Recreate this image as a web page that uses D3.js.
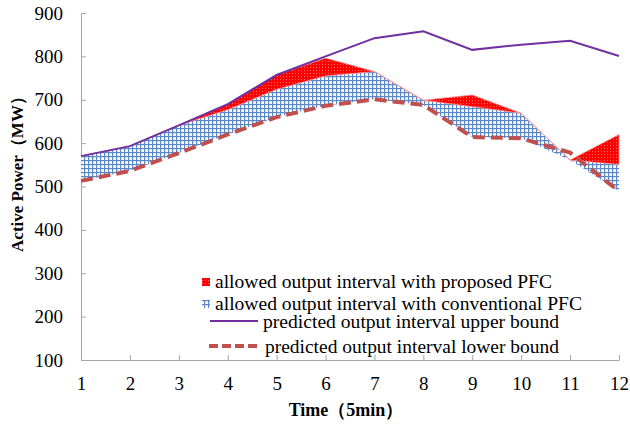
<!DOCTYPE html>
<html>
<head>
<meta charset="utf-8">
<script src="https://cdn.jsdelivr.net/npm/d3@7"></script>
<style>
body{margin:0;background:#fff;}
text{font-family:"Liberation Serif","Times New Roman",serif;fill:#000;}
</style>
</head>
<body>
<svg id="chart" width="630" height="427"></svg>
<script>
// time steps (5 min)
var times=[1,2,3,4,5,6,7,8,9,10,11,12];
// predicted output interval
var upperBound=[570,593,641,690,757,800,842,858,815,827,836,801];
var lowerBound=[513,536,577,620,660,686,701,688,614,611,578,489];
// allowed interval, conventional PFC
var convLow =[513,536,577,620,660,686,701,688,614,611,561,489];
var convHigh=[570,593,641,677,724,755,765,699,684,669,561,551];
// allowed interval upper edge, proposed PFC
var propHigh=[570,593,641,690,757,796,765,699,711,669,561,620];
var yTicks=[100,200,300,400,500,600,700,800,900];
var legendLabels=["allowed output interval with proposed PFC",
  "allowed output interval with conventional PFC",
  "predicted output interval upper bound",
  "predicted output interval lower bound"];

var svg=d3.select("#chart");
var x=d3.scalePoint().domain(times).range([81,619]);
var y=d3.scaleLinear().domain([100,900]).range([360,13]);

var defs=svg.append("defs");
var pr=defs.append("pattern").attr("id","redDots").attr("patternUnits","userSpaceOnUse")
  .attr("width",3).attr("height",3);
pr.append("rect").attr("width",3).attr("height",3).attr("fill","#ff0000");
pr.append("rect").attr("x",1).attr("y",1).attr("width",1).attr("height",1).attr("fill","#ff7070");
var pb=defs.append("pattern").attr("id","blueGrid").attr("patternUnits","userSpaceOnUse")
  .attr("width",4).attr("height",4);
pb.append("rect").attr("width",4).attr("height",4).attr("fill","#ffffff");
pb.append("rect").attr("width",4).attr("height",1.2).attr("fill","#5b89c8");
pb.append("rect").attr("width",1.2).attr("height",4).attr("fill","#5b89c8");

// axes
var yAxis=svg.append("g").attr("transform","translate(81,0)")
  .call(d3.axisLeft(y).tickValues(yTicks).tickSizeInner(-5).tickSizeOuter(0).tickPadding(18));
var xAxis=svg.append("g").attr("transform","translate(0,360)")
  .call(d3.axisBottom(x).tickSizeInner(-5).tickSizeOuter(0).tickPadding(17));
[yAxis,xAxis].forEach(function(a){
  a.select(".domain").attr("stroke","#a6a6a6");
  a.selectAll(".tick line").attr("stroke","#a6a6a6");
  a.selectAll(".tick text").style("font-size","19px").attr("fill","#000")
   .style("font-family","'Liberation Serif','Times New Roman',serif");
});

// areas
var areaConv=d3.area().x(function(d,i){return x(times[i]);})
  .y0(function(d,i){return y(convLow[i]);}).y1(function(d){return y(d);});
var areaProp=d3.area().x(function(d,i){return x(times[i]);})
  .y0(function(d,i){return y(convHigh[i]);}).y1(function(d){return y(d);});
svg.append("path").datum(convHigh).attr("d",areaConv).attr("fill","url(#blueGrid)");
svg.append("path").datum(propHigh).attr("d",areaProp).attr("fill","url(#redDots)")
  .attr("stroke","#ff9090").attr("stroke-width",0.8);

// lines
var line=d3.line().x(function(d,i){return x(times[i]);}).y(function(d){return y(d);});
svg.append("path").datum(lowerBound).attr("d",line).attr("fill","none")
  .attr("stroke","#c0504d").attr("stroke-width",4).attr("stroke-dasharray","12,6");
svg.append("path").datum(upperBound).attr("d",line).attr("fill","none")
  .attr("stroke","#7030a0").attr("stroke-width",2);

// axis titles
svg.append("text").attr("x",346).attr("y",416).attr("text-anchor","middle")
  .style("font-size","18px").style("font-weight","bold").text("Time（5min）");
svg.append("text").attr("transform","translate(23,170) rotate(-90)").attr("text-anchor","middle")
  .style("font-size","17px").style("font-weight","bold").text("Active Power（MW）");

// legend
var lg=svg.append("g");
lg.append("rect").attr("x",202).attr("y",278).attr("width",8).attr("height",8).attr("fill","url(#redDots)");
lg.append("rect").attr("x",202).attr("y",300).attr("width",8).attr("height",8).attr("fill","url(#blueGrid)");
lg.append("line").attr("x1",210).attr("x2",258).attr("y1",321).attr("y2",321)
  .attr("stroke","#7030a0").attr("stroke-width",2);
lg.append("line").attr("x1",209).attr("x2",261).attr("y1",346).attr("y2",346)
  .attr("stroke","#c0504d").attr("stroke-width",4).attr("stroke-dasharray","9,4");
var lgPos=[[215,288,337],[215,310,367],[263,328,296],[265,353,294]];
legendLabels.forEach(function(t,i){
  lg.append("text").attr("x",lgPos[i][0]).attr("y",lgPos[i][1])
    .attr("textLength",lgPos[i][2]).attr("lengthAdjust","spacingAndGlyphs")
    .style("font-size","18px").text(t);
});
</script>
</body>
</html>
